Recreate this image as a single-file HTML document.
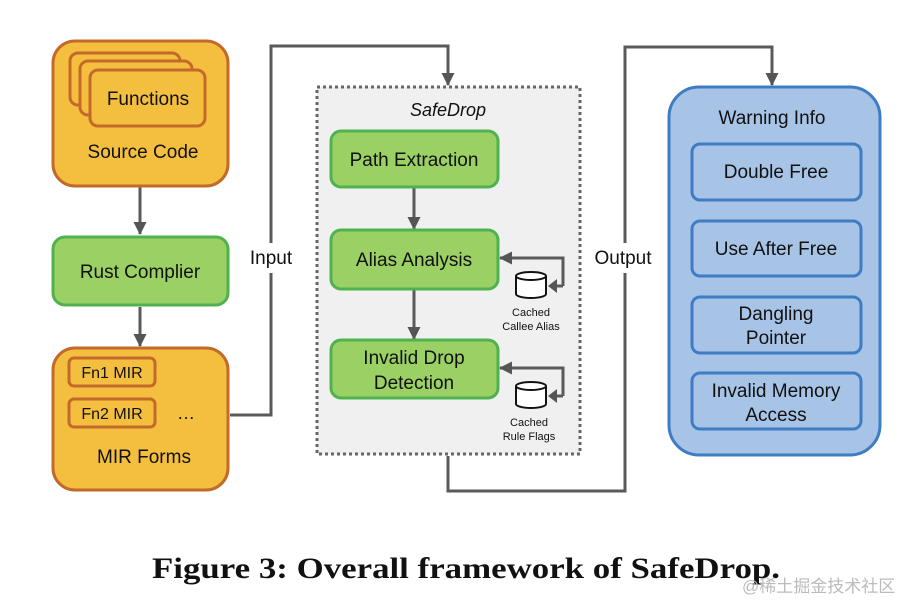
<!DOCTYPE html>
<html><head><meta charset="utf-8"><style>
html,body{margin:0;padding:0;background:#fff;width:920px;height:616px;overflow:hidden}
text{font-family:"Liberation Sans",sans-serif;fill:#111}
</style></head><body>
<svg width="920" height="616" viewBox="0 0 920 616" xmlns="http://www.w3.org/2000/svg">
<defs>
<marker id="ah2" markerWidth="13" markerHeight="13" refX="12" refY="6.5" orient="auto" markerUnits="userSpaceOnUse"><path d="M0,0 L13,6.5 L0,13 z" fill="#555"/></marker>
</defs>
<g stroke="#5a5a5a" stroke-width="3" fill="none">
<path d="M140 187 V234" marker-end="url(#ah2)"/>
<path d="M140 307 V346" marker-end="url(#ah2)"/>
<path d="M230 415 H271 V46 H448 V85" marker-end="url(#ah2)"/>
<path d="M448 456 V491 H625 V47 H772 V85" marker-end="url(#ah2)"/>
</g>
<!-- source code -->
<rect x="53" y="41" width="175" height="145" rx="22" fill="#f4bf3f" stroke="#c3692a" stroke-width="3"/>
<rect x="70" y="53" width="110" height="52" rx="8" fill="#f4bf3f" stroke="#c3692a" stroke-width="3"/>
<rect x="80" y="61" width="112" height="54" rx="8" fill="#f4bf3f" stroke="#c3692a" stroke-width="3"/>
<rect x="90" y="70" width="115" height="56" rx="8" fill="#f4bf3f" stroke="#c3692a" stroke-width="3"/>
<text x="148" y="105" font-size="19" text-anchor="middle">Functions</text>
<text x="143" y="158" font-size="19" text-anchor="middle">Source Code</text>
<rect x="53" y="237" width="175" height="68" rx="12" fill="#9bd064" stroke="#4fb24f" stroke-width="3"/>
<text x="140" y="278" font-size="19" text-anchor="middle">Rust Complier</text>
<rect x="53" y="348" width="175" height="142" rx="22" fill="#f4bf3f" stroke="#c3692a" stroke-width="3"/>
<rect x="69" y="358" width="86" height="28" rx="5" fill="#f4bf3f" stroke="#c3692a" stroke-width="3"/>
<text x="112" y="378" font-size="16" text-anchor="middle">Fn1 MIR</text>
<rect x="69" y="399" width="86" height="28" rx="5" fill="#f4bf3f" stroke="#c3692a" stroke-width="3"/>
<text x="112" y="419" font-size="16" text-anchor="middle">Fn2 MIR</text>
<text x="186" y="419" font-size="18" text-anchor="middle">…</text>
<text x="144" y="463" font-size="19" text-anchor="middle">MIR Forms</text>
<rect x="258" y="243" width="30" height="30" fill="#fff"/>
<text x="271" y="264" font-size="19" text-anchor="middle">Input</text>
<rect x="612" y="243" width="30" height="30" fill="#fff"/>
<text x="623" y="264" font-size="19" text-anchor="middle">Output</text>
<!-- safedrop -->
<rect x="317" y="87" width="263" height="367" fill="#f0f0f0" stroke="#666" stroke-width="3" stroke-dasharray="3 3"/>
<text x="448" y="116" font-size="18" text-anchor="middle" font-style="italic">SafeDrop</text>
<g stroke="#5a5a5a" stroke-width="3" fill="none">
<path d="M414 188 V229" marker-end="url(#ah2)"/>
<path d="M414 290 V339" marker-end="url(#ah2)"/>
<path d="M563 286 V258 H500" marker-end="url(#ah2)"/>
<path d="M563 286 H555"/>
<path d="M563 396 V368 H500" marker-end="url(#ah2)"/>
<path d="M563 396 H555"/>
</g>
<path d="M557 279 L548 286 L557 293z M557 389 L548 396 L557 403z" fill="#555"/>
<rect x="331" y="131" width="167" height="56" rx="10" fill="#9bd064" stroke="#4fb24f" stroke-width="3"/>
<text x="414" y="166" font-size="19" text-anchor="middle">Path Extraction</text>
<rect x="331" y="230" width="167" height="59" rx="10" fill="#9bd064" stroke="#4fb24f" stroke-width="3"/>
<text x="414" y="266" font-size="19" text-anchor="middle">Alias Analysis</text>
<rect x="331" y="340" width="167" height="58" rx="10" fill="#9bd064" stroke="#4fb24f" stroke-width="3"/>
<text x="414" y="364" font-size="19" text-anchor="middle">Invalid Drop</text>
<text x="414" y="389" font-size="19" text-anchor="middle">Detection</text>
<g fill="#fff" stroke="#111" stroke-width="2">
<path d="M516 276 V294 A15 4 0 0 0 546 294 V276"/><ellipse cx="531" cy="276" rx="15" ry="4"/>
<path d="M516 386 V404 A15 4 0 0 0 546 404 V386"/><ellipse cx="531" cy="386" rx="15" ry="4"/>
</g>
<text x="531" y="316" font-size="11" text-anchor="middle">Cached</text>
<text x="531" y="330" font-size="11" text-anchor="middle">Callee Alias</text>
<text x="529" y="426" font-size="11" text-anchor="middle">Cached</text>
<text x="529" y="440" font-size="11" text-anchor="middle">Rule Flags</text>
<!-- warning -->
<rect x="669" y="87" width="211" height="368" rx="30" fill="#a7c3e6" stroke="#3e7cc4" stroke-width="3"/>
<text x="772" y="124" font-size="19" text-anchor="middle">Warning Info</text>
<g fill="#a7c3e6" stroke="#3e7cc4" stroke-width="3">
<rect x="692" y="144" width="169" height="56" rx="8"/>
<rect x="692" y="221" width="169" height="55" rx="8"/>
<rect x="692" y="297" width="169" height="56" rx="8"/>
<rect x="692" y="373" width="169" height="56" rx="8"/>
</g>
<text x="776" y="178" font-size="19" text-anchor="middle">Double Free</text>
<text x="776" y="255" font-size="19" text-anchor="middle">Use After Free</text>
<text x="776" y="320" font-size="19" text-anchor="middle">Dangling</text>
<text x="776" y="344" font-size="19" text-anchor="middle">Pointer</text>
<text x="776" y="397" font-size="19" text-anchor="middle">Invalid Memory</text>
<text x="776" y="421" font-size="19" text-anchor="middle">Access</text>
<text x="152" y="578" font-size="30" font-weight="bold" textLength="628" lengthAdjust="spacingAndGlyphs" style="font-family:'Liberation Serif',serif">Figure 3: Overall framework of SafeDrop.</text>
<text x="742" y="592" font-size="17" style="font-family:'Liberation Sans','Noto Sans CJK SC',sans-serif;fill:#bbb">@稀土掘金技术社区</text>
</svg>
</body></html>
